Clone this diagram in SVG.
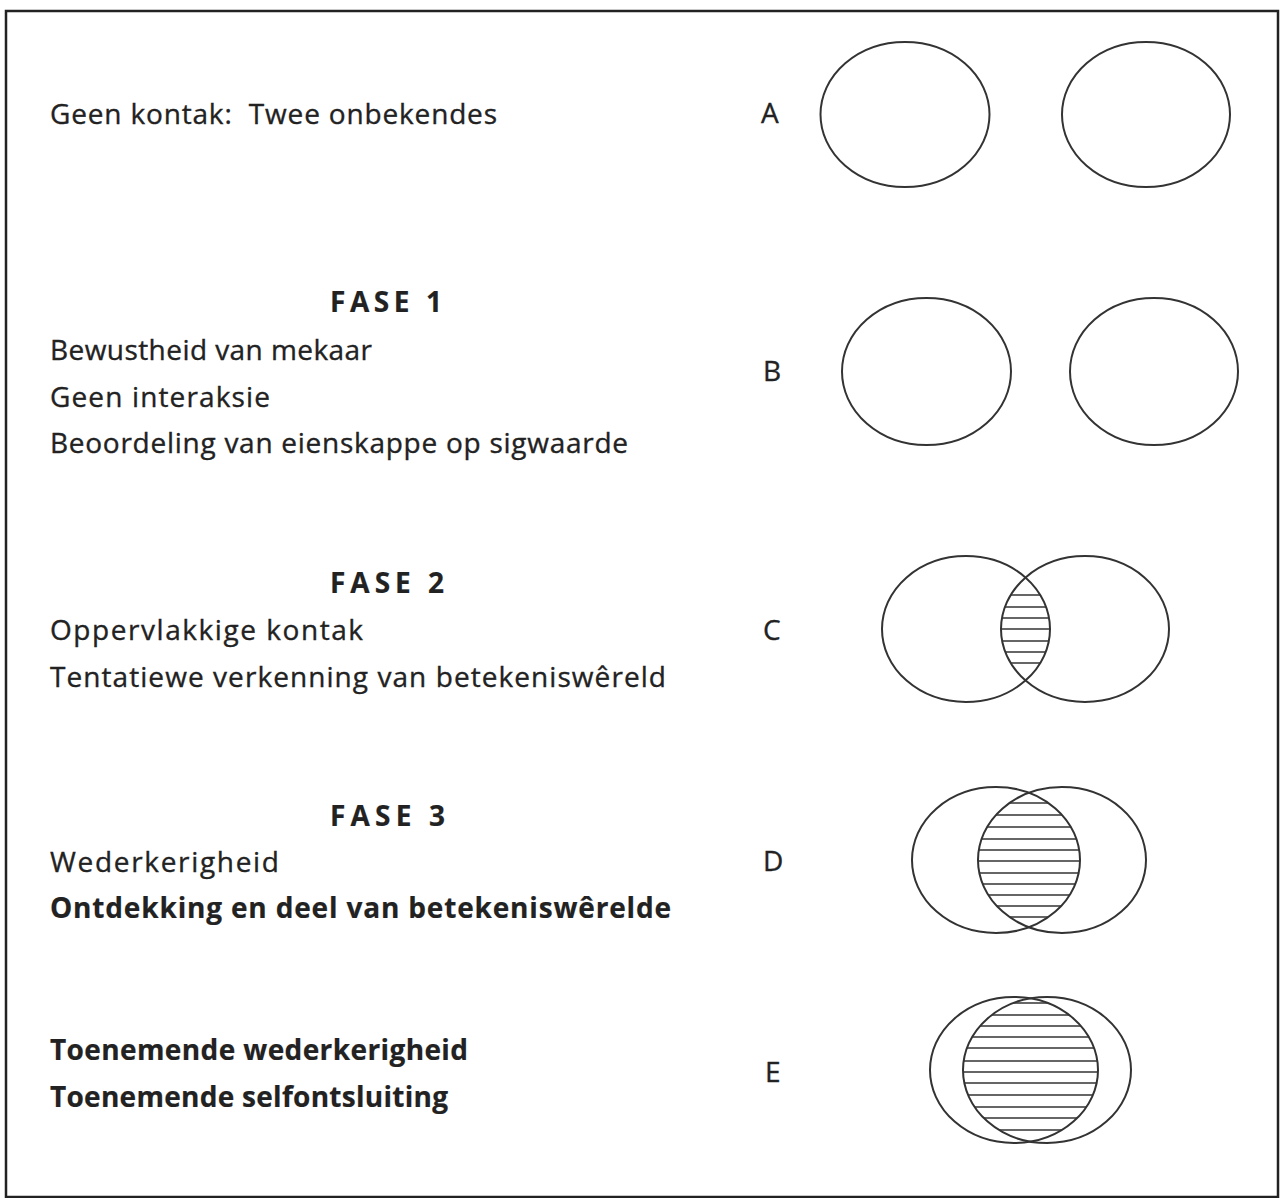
<svg xmlns="http://www.w3.org/2000/svg" width="1285" height="1198" viewBox="0 0 1285 1198">
<style>
text{font-family:"Comic Sans MS","Open Sans","DejaVu Sans",sans-serif;font-size:28px;fill:#222;stroke:#222;stroke-width:0.35;white-space:pre}
.b{font-weight:bold;stroke-width:0.2}
.e{fill:none;stroke:#333;stroke-width:2}
.h line{stroke:#333;stroke-width:1.6}
</style>
<defs>
<clipPath id="cL"><ellipse cx="966" cy="629" rx="84" ry="73"/></clipPath>
<clipPath id="cR"><ellipse cx="1085" cy="629" rx="84" ry="73"/></clipPath>
<clipPath id="dL"><ellipse cx="996" cy="860" rx="84" ry="73"/></clipPath>
<clipPath id="dR"><ellipse cx="1062" cy="860" rx="84" ry="73"/></clipPath>
<clipPath id="eL"><ellipse cx="1014" cy="1070" rx="84" ry="73"/></clipPath>
<clipPath id="eR"><ellipse cx="1047" cy="1070" rx="84" ry="73"/></clipPath>
</defs>
<rect x="6" y="11" width="1272" height="1186" fill="#fff" stroke="#222" stroke-width="2.5"/>

<g id="textA">
<text x="50" y="124" textLength="447" lengthAdjust="spacing" xml:space="preserve">Geen kontak:  Twee onbekendes</text>
</g>
<g id="fase1">
<text class="b" x="330" y="312" textLength="112" lengthAdjust="spacing">FASE 1</text>
<text x="50" y="360" textLength="322" lengthAdjust="spacing">Bewustheid van mekaar</text>
<text x="50" y="407" textLength="220" lengthAdjust="spacing">Geen interaksie</text>
<text x="50" y="453" textLength="578" lengthAdjust="spacing">Beoordeling van eienskappe op sigwaarde</text>
</g>
<g id="fase2">
<text class="b" x="330" y="593" textLength="114" lengthAdjust="spacing">FASE 2</text>
<text x="50" y="640" textLength="313" lengthAdjust="spacing">Oppervlakkige kontak</text>
<text x="50" y="687" textLength="616" lengthAdjust="spacing">Tentatiewe verkenning van betekeniswêreld</text>
</g>
<g id="fase3">
<text class="b" x="330" y="826" textLength="115" lengthAdjust="spacing">FASE 3</text>
<text x="50" y="872" textLength="229" lengthAdjust="spacing">Wederkerigheid</text>
<text class="b" x="50" y="918" textLength="621" lengthAdjust="spacing">Ontdekking en deel van betekeniswêrelde</text>
</g>
<g id="textE">
<text class="b" x="50" y="1060" textLength="418" lengthAdjust="spacing">Toenemende wederkerigheid</text>
<text class="b" x="50" y="1107" textLength="398" lengthAdjust="spacing">Toenemende selfontsluiting</text>
</g>

<g id="diagA">
<text x="761" y="123">A</text>
<ellipse class="e" cx="905" cy="114.5" rx="84.5" ry="72.5"/>
<ellipse class="e" cx="1146" cy="114.5" rx="84" ry="72.5"/>
</g>
<g id="diagB">
<text x="763" y="381">B</text>
<ellipse class="e" cx="926.5" cy="371.5" rx="84.5" ry="73.5"/>
<ellipse class="e" cx="1154" cy="371.5" rx="84" ry="73.5"/>
</g>
<g id="diagC">
<text x="763" y="640">C</text>
<g clip-path="url(#cL)"><g clip-path="url(#cR)" class="h">
<line x1="990" x2="1060" y1="595" y2="595"/>
<line x1="990" x2="1060" y1="607" y2="607"/>
<line x1="990" x2="1060" y1="618" y2="618"/>
<line x1="990" x2="1060" y1="629" y2="629"/>
<line x1="990" x2="1060" y1="641" y2="641"/>
<line x1="990" x2="1060" y1="652" y2="652"/>
<line x1="990" x2="1060" y1="663" y2="663"/>
</g></g>
<ellipse class="e" cx="966" cy="629" rx="84" ry="73"/>
<ellipse class="e" cx="1085" cy="629" rx="84" ry="73"/>
</g>
<g id="diagD">
<text x="763" y="871">D</text>
<g clip-path="url(#dL)"><g clip-path="url(#dR)" class="h">
<line x1="970" x2="1090" y1="803" y2="803"/>
<line x1="970" x2="1090" y1="815" y2="815"/>
<line x1="970" x2="1090" y1="827" y2="827"/>
<line x1="970" x2="1090" y1="839" y2="839"/>
<line x1="970" x2="1090" y1="850" y2="850"/>
<line x1="970" x2="1090" y1="861" y2="861"/>
<line x1="970" x2="1090" y1="873" y2="873"/>
<line x1="970" x2="1090" y1="884" y2="884"/>
<line x1="970" x2="1090" y1="895" y2="895"/>
<line x1="970" x2="1090" y1="906" y2="906"/>
<line x1="970" x2="1090" y1="917" y2="917"/>
</g></g>
<ellipse class="e" cx="996" cy="860" rx="84" ry="73"/>
<ellipse class="e" cx="1062" cy="860" rx="84" ry="73"/>
</g>
<g id="diagE">
<text x="765" y="1082">E</text>
<g clip-path="url(#eL)"><g clip-path="url(#eR)" class="h">
<line x1="950" x2="1110" y1="1003" y2="1003"/>
<line x1="950" x2="1110" y1="1015" y2="1015"/>
<line x1="950" x2="1110" y1="1026" y2="1026"/>
<line x1="950" x2="1110" y1="1037" y2="1037"/>
<line x1="950" x2="1110" y1="1048" y2="1048"/>
<line x1="950" x2="1110" y1="1061" y2="1061"/>
<line x1="950" x2="1110" y1="1072" y2="1072"/>
<line x1="950" x2="1110" y1="1083" y2="1083"/>
<line x1="950" x2="1110" y1="1095" y2="1095"/>
<line x1="950" x2="1110" y1="1107" y2="1107"/>
<line x1="950" x2="1110" y1="1118" y2="1118"/>
<line x1="950" x2="1110" y1="1130" y2="1130"/>
</g></g>
<ellipse class="e" cx="1014" cy="1070" rx="84" ry="73"/>
<ellipse class="e" cx="1047" cy="1070" rx="84" ry="73"/>
</g>
<g id="connectors"/>
</svg>
